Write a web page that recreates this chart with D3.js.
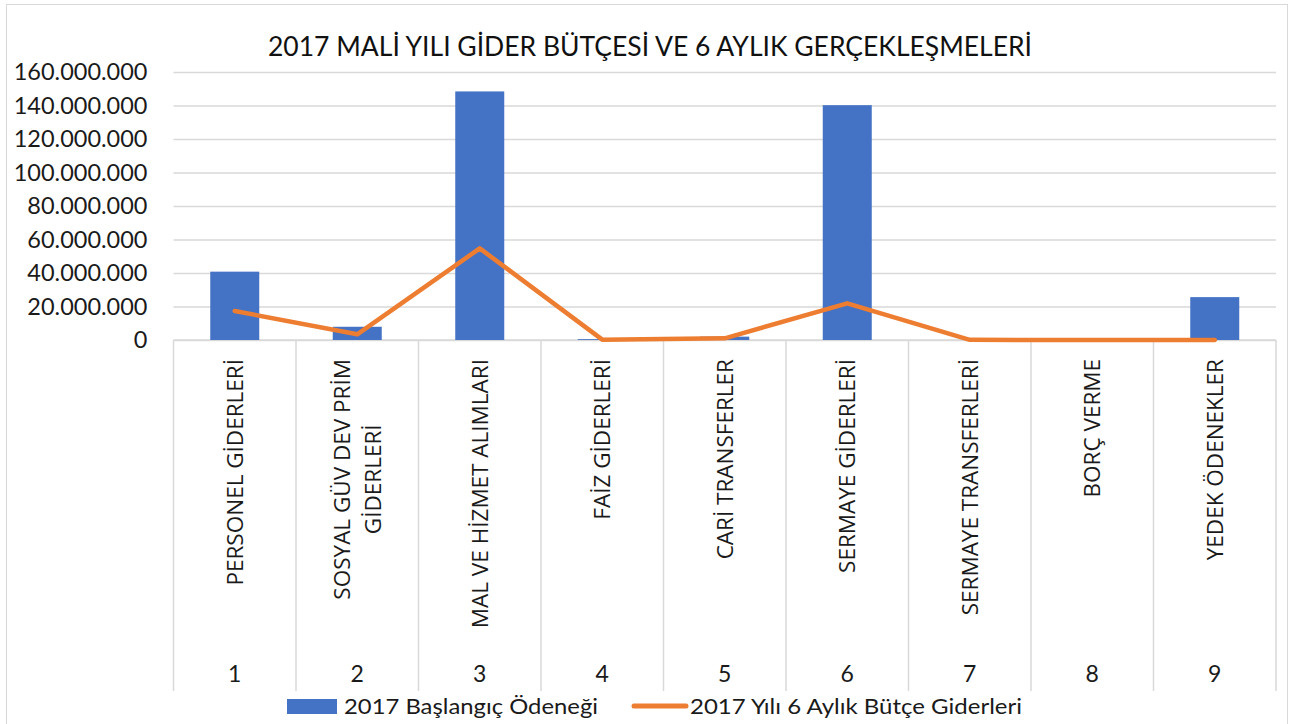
<!DOCTYPE html>
<html>
<head>
<meta charset="utf-8">
<script src="https://cdn.jsdelivr.net/npm/d3@7"></script>
<style>
  body { margin: 0; background: #fff; }
  svg text { font-family: Lato, "Open Sans", sans-serif; }
</style>
</head>
<body>
<script>
// chart size
var w = 1293;
var h = 724;

// data
var kategoriler = ["PERSONEL GİDERLERİ", "SOSYAL GÜV DEV PRİM|GİDERLERİ", "MAL VE HİZMET ALIMLARI",
  "FAİZ GİDERLERİ", "CARİ TRANSFERLER", "SERMAYE GİDERLERİ", "SERMAYE TRANSFERLERİ",
  "BORÇ VERME", "YEDEK ÖDENEKLER"];
var siraNo = ["1", "2", "3", "4", "5", "6", "7", "8", "9"];
var baslangic = [40800000, 7900000, 148400000, 500000, 2000000, 140200000, 0, 0, 25600000];
var gerceklesme = [17300000, 3400000, 54700000, 200000, 1000000, 21900000, 100000, 0, 0];
var yTicks = [0, 20000000, 40000000, 60000000, 80000000, 100000000, 120000000, 140000000, 160000000];
var seriAdlari = ["2017 Başlangıç Ödeneği", "2017 Yılı 6 Aylık Bütçe Giderleri"];

var mavi = "#4472C4", turuncu = "#ED7D31", izgara = "#d9d9d9";

var svg = d3.select("body").append("svg")
  .attr("width", w)
  .attr("height", h);

// outer border
svg.append("rect")
  .attr("x", 6.5).attr("y", 4.5)
  .attr("width", 1281).attr("height", 730)
  .attr("fill", "none").attr("stroke", izgara);

var x = d3.scaleBand()
  .domain(siraNo)
  .range([173.5, 1276])
  .paddingInner(0.6).paddingOuter(0.3);

var xEdge = d3.scaleBand().domain(siraNo).range([173.5, 1276]);

var y = d3.scaleLinear()
  .domain([0, 160000000])
  .range([340, 72]);

// title
svg.append("text")
  .attr("x", 650).attr("y", 56)
  .attr("text-anchor", "middle")
  .attr("font-size", 27)
  .attr("fill", "#111")
  .attr("textLength", 764)
  .attr("lengthAdjust", "spacingAndGlyphs")
  .text("2017 MALİ YILI GİDER BÜTÇESİ VE 6 AYLIK GERÇEKLEŞMELERİ");

// gridlines + y labels
var yAxis = d3.axisLeft(y)
  .tickValues(yTicks)
  .tickSize(-(1276 - 173.5))
  .tickPadding(26)
  .tickFormat(function(d) { return d3.format(",")(d).replace(/,/g, "."); });

var gy = svg.append("g")
  .attr("transform", "translate(173.5,0)")
  .call(yAxis);
gy.select(".domain").remove();
gy.selectAll(".tick line").attr("stroke", izgara).attr("stroke-width", 1.5);
gy.selectAll(".tick text")
  .attr("font-size", 23.5)
  .attr("fill", "#1a1a1a")
  .style("font-family", "Lato, sans-serif");

// category separators (multi-level axis)
var seps = siraNo.map(function(d) { return xEdge(d); }).concat([1276]);
svg.selectAll("line.sep")
  .data(seps)
  .enter()
  .append("line")
  .attr("class", "sep")
  .attr("x1", function(d) { return d; })
  .attr("x2", function(d) { return d; })
  .attr("y1", 340).attr("y2", 691)
  .attr("stroke", izgara).attr("stroke-width", 1.5);

svg.append("line")
  .attr("x1", 173.5).attr("x2", 1276)
  .attr("y1", y(0)).attr("y2", y(0))
  .attr("stroke", izgara).attr("stroke-width", 1.5);

// bars
svg.selectAll("rect.bar")
  .data(baslangic)
  .enter()
  .append("rect")
  .attr("class", "bar")
  .attr("x", function(d, i) { return x(siraNo[i]); })
  .attr("width", x.bandwidth())
  .attr("y", function(d) { return y(d); })
  .attr("height", function(d) { return y(0) - y(d); })
  .attr("fill", mavi);

// line
var cx = function(i) { return xEdge(siraNo[i]) + xEdge.bandwidth() / 2; };
var lineGen = d3.line()
  .x(function(d, i) { return cx(i); })
  .y(function(d) { return y(d); });

svg.append("path")
  .datum(gerceklesme)
  .attr("d", lineGen)
  .attr("fill", "none")
  .attr("stroke", turuncu)
  .attr("stroke-width", 4.5)
  .attr("stroke-linejoin", "round")
  .attr("stroke-linecap", "round");

// rotated category labels
kategoriler.forEach(function(k, i) {
  var lines = k.split("|");
  var g = svg.append("g");
  var texts = lines.map(function(t, j) {
    return g.append("text")
      .attr("font-size", 22.5)
      .attr("fill", "#1a1a1a")
      .attr("text-anchor", "middle")
      .style("font-family", "'Open Sans', sans-serif")
      .text(t);
  });
  var maxLen = d3.max(texts, function(t) { return t.node().getComputedTextLength(); });
  var midY = 359 + maxLen / 2;
  var n = lines.length;
  texts.forEach(function(t, j) {
    var off = (j - (n - 1) / 2) * 31;
    var px = cx(i) + off + 8;
    t.attr("transform", "translate(" + px + "," + midY + ") rotate(-90)");
  });
});

// group numbers
svg.selectAll("text.num")
  .data(siraNo)
  .enter()
  .append("text")
  .attr("class", "num")
  .attr("x", function(d, i) { return cx(i); })
  .attr("y", 682)
  .attr("text-anchor", "middle")
  .attr("font-size", 23)
  .attr("fill", "#1a1a1a")
  .text(function(d) { return d; });

// legend
var lg = svg.append("g");
lg.append("rect")
  .attr("x", 287).attr("y", 699)
  .attr("width", 50).attr("height", 15)
  .attr("fill", mavi);
lg.append("text")
  .attr("x", 344).attr("y", 714)
  .attr("font-size", 22)
  .attr("fill", "#1a1a1a")
  .attr("textLength", 254)
  .attr("lengthAdjust", "spacingAndGlyphs")
  .text(seriAdlari[0]);
lg.append("line")
  .attr("x1", 634).attr("x2", 686)
  .attr("y1", 706).attr("y2", 706)
  .attr("stroke", turuncu).attr("stroke-width", 5)
  .attr("stroke-linecap", "round");
lg.append("text")
  .attr("x", 690).attr("y", 714)
  .attr("font-size", 22)
  .attr("fill", "#1a1a1a")
  .attr("textLength", 332)
  .attr("lengthAdjust", "spacingAndGlyphs")
  .text(seriAdlari[1]);
</script>
</body>
</html>
